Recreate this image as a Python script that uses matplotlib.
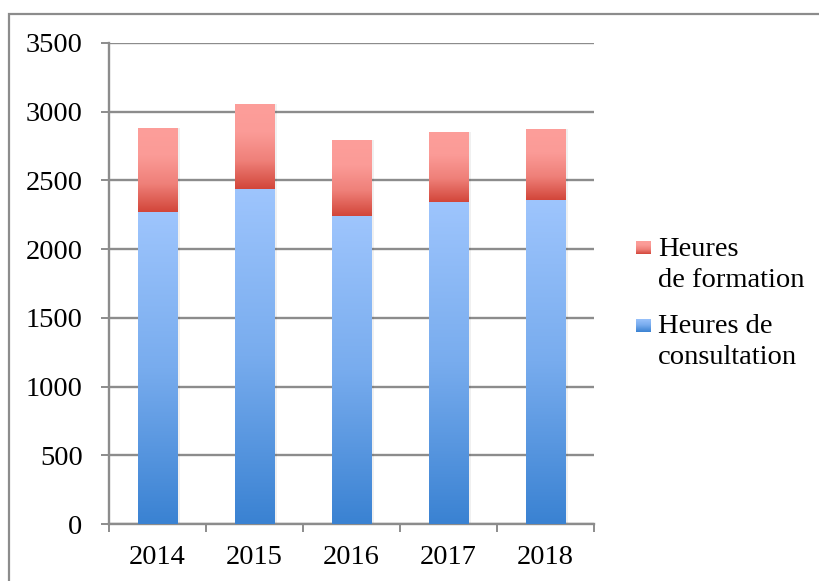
import numpy as np
import matplotlib.pyplot as plt
from matplotlib.colors import LinearSegmentedColormap
from matplotlib.patches import Rectangle

# données
annees = ["2014", "2015", "2016", "2017", "2018"]
consultation = [2270, 2438, 2241, 2343, 2358]
formation = [612, 618, 553, 510, 516]
legende = [["Heures", "de formation"], ["Heures de", "consultation"]]

plt.rcParams['font.family'] = ['Liberation Serif', 'DejaVu Serif']

bleu = LinearSegmentedColormap.from_list("bleu", ["#3a82d2", "#78acee", "#9ec5fd"])
rouge = LinearSegmentedColormap.from_list("rouge", ["#d2463a", "#ef8079", "#fb9b97", "#fd9e9a"])
gris = "#8c8c8c"

fig = plt.figure(figsize=(8.19, 5.81), dpi=100)
ax = fig.add_axes([0.1331, 0.0981, 0.5922, 0.8279])

x = np.arange(len(annees))
largeur = 0.41
grad = np.linspace(0, 1, 256).reshape(-1, 1)


def barres_degrade(valeurs, bas, cmap):
    barres = ax.bar(x, valeurs, largeur, bottom=bas, color="none", zorder=3)
    for p in barres.patches:
        x0, y0 = p.get_x(), p.get_y()
        # petite ombre
        ax.add_patch(Rectangle((x0 + 0.03, y0), p.get_width(), p.get_height(),
                               color="#000000", alpha=0.06, lw=0, zorder=2))
        im = ax.imshow(grad, extent=[x0, x0 + p.get_width(), y0, y0 + p.get_height()],
                       origin="lower", cmap=cmap, aspect="auto", zorder=3)
        im.set_clip_path(p)
    return barres


barres_degrade(consultation, 0, bleu)
barres_degrade(formation, consultation, rouge)

ax.set_xlim(-0.5, len(annees) - 0.5)
ax.set_ylim(0, 3500)
ax.set_yticks(np.arange(0, 3501, 500))
ax.set_xticks(x)
ax.set_xticklabels(annees)
ax.set_xticks(np.arange(-0.5, len(annees), 1), minor=True)

ax.grid(axis="y", color=gris, linewidth=1.7, zorder=1)
ax.set_axisbelow(True)
for s in ["top", "right"]:
    ax.spines[s].set_visible(False)
for s in ["left", "bottom"]:
    ax.spines[s].set_color(gris)
    ax.spines[s].set_linewidth(1.7)

ax.tick_params(axis="y", length=6, width=1.4, color=gris, pad=13, labelsize=20.5)
ax.tick_params(axis="x", which="major", length=0, pad=15, labelsize=20.5)
ax.tick_params(axis="x", which="minor", length=6, width=1.4, color=gris)

# légende
for i, cmap in enumerate([rouge, bleu]):
    bas = [0.5628, 0.4286][i]
    la = fig.add_axes([0.7766, bas, 0.0183, 0.0224])
    la.imshow(grad, origin="lower", cmap=cmap, aspect="auto")
    la.axis("off")
    for j, ligne in enumerate(legende[i]):
        y = [[256, 287], [333, 364]][i][j]
        fig.text(658 / 819, 1 - y / 581, ligne, fontsize=20.5, va="baseline", ha="left")

# cadre
fig.add_artist(Rectangle((9 / 819, -0.1), 1.0, 1 - 14 / 581 + 0.1,
                         transform=fig.transFigure, fill=False,
                         edgecolor=gris, linewidth=1.6))

fig.savefig("out.png", dpi=100)
